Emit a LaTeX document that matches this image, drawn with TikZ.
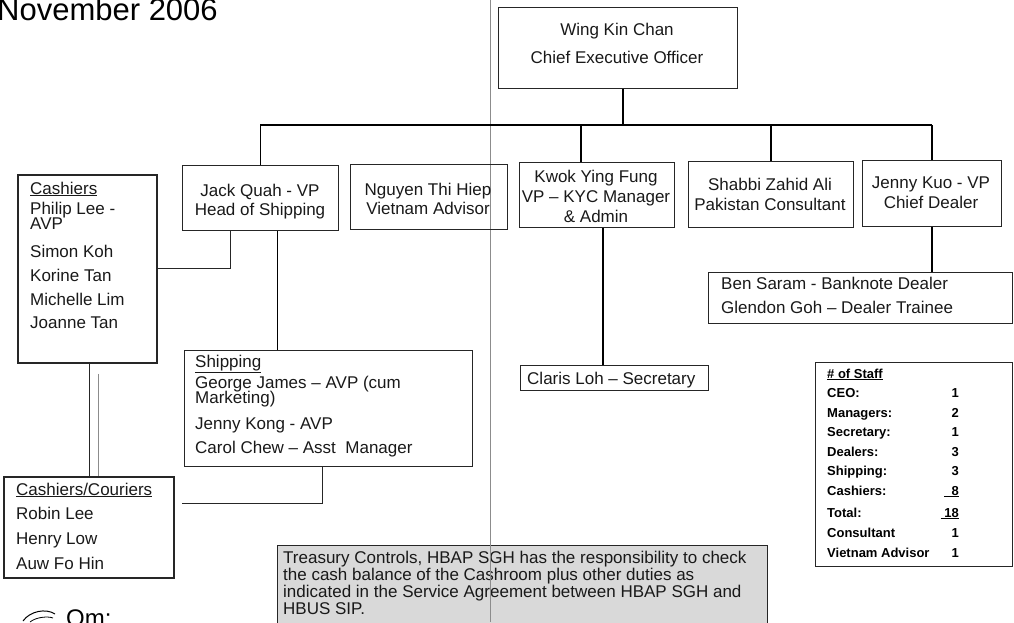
\documentclass[tikz,border=0pt]{standalone}
\usepackage{fontspec}
\setmainfont{Liberation Sans}
\usetikzlibrary{calc}
\newcommand\lblfont{\fontsize{17}{20}\selectfont}
\newcommand\stafffont{\fontsize{13}{15}\selectfont\bfseries}
\begin{document}
\begin{tikzpicture}[x=1pt,y=-1pt,
  frame/.style={draw=black!85, line width=0.9pt, inner sep=0pt, anchor=north west},
  heavyframe/.style={frame, line width=1.8pt},
  lbl/.style={font=\lblfont, inner sep=0pt, anchor=base west, text=black!90},
  ctr/.style={lbl, anchor=base},
  stf/.style={font=\stafffont, inner sep=0pt, anchor=base west},
  stfv/.style={stf, anchor=base east},
  heavyline/.style={line width=1.8pt, draw=black},
  thinline/.style={line width=0.9pt, draw=black!85},
  faintline/.style={line width=0.6pt, draw=black!45}]
\useasboundingbox (0,0) rectangle (1014,622);

% crease running down the sheet
\draw[faintline] (490,0) -- (490,622);

% title
\node[font=\fontsize{31}{31}\selectfont, inner sep=0pt, anchor=base west] (title) at (-3,20) {November 2006};

% chief executive
\node[frame, minimum width=239pt, minimum height=81pt] (ceo) at (498,7) {};
\node[ctr] (ceoA) at (617,35) {Wing Kin Chan};
\node[ctr] (ceoB) at (617,63) {Chief Executive Officer};

% direct reports
\node[frame, minimum width=156pt, minimum height=65pt] (jack) at (182,165) {};
\node[ctr] (jackA) at (260,196) {Jack Quah - VP};
\node[ctr] (jackB) at (260,215) {Head of Shipping};

\node[frame, minimum width=157pt, minimum height=65pt] (nguyen) at (350,164) {};
\node[ctr] (nguyenA) at (428,195) {Nguyen Thi Hiep};
\node[ctr] (nguyenB) at (428,214) {Vietnam Advisor};

\node[frame, minimum width=155pt, minimum height=65pt] (kwok) at (519,162) {};
\node[ctr] (kwokA) at (596,182) {Kwok Ying Fung};
\node[ctr] (kwokB) at (596,202) {VP -- KYC Manager};
\node[ctr] (kwokC) at (596,222) {\& Admin};

\node[frame, minimum width=165pt, minimum height=66pt] (shabbi) at (688,161) {};
\node[ctr] (shabbiA) at (770,190) {Shabbi Zahid Ali};
\node[ctr] (shabbiB) at (770,210) {Pakistan Consultant};

\node[frame, minimum width=139pt, minimum height=66pt] (jenny) at (862,160) {};
\node[ctr] (jennyA) at (931,188) {Jenny Kuo - VP};
\node[ctr] (jennyB) at (931,208) {Chief Dealer};

% cashiers
\node[heavyframe, minimum width=139pt, minimum height=188pt] (cash) at (17,174) {};
\node[lbl] (cashH) at (30,194) {\underline{Cashiers}};
\node[lbl] (cashA) at (30,214) {Philip Lee -};
\node[lbl] (cashA2) at (30,229) {AVP};
\node[lbl] (cashB) at (30,257) {Simon Koh};
\node[lbl] (cashC) at (30,281) {Korine Tan};
\node[lbl] (cashD) at (30,305) {Michelle Lim};
\node[lbl] (cashE) at (30,328) {Joanne Tan};

% shipping
\node[frame, minimum width=288pt, minimum height=116pt] (ship) at (184,350) {};
\node[lbl] (shipH) at (195,367) {\underline{Shipping}};
\node[lbl] (shipA) at (195,388) {George James -- AVP (cum};
\node[lbl] (shipA2) at (195,403) {Marketing)};
\node[lbl] (shipB) at (195,429) {Jenny Kong - AVP};
\node[lbl] (shipC) at (195,453) {Carol Chew -- Asst\ \ Manager};

% cashiers / couriers
\node[heavyframe, minimum width=170pt, minimum height=101pt] (cour) at (3,476) {};
\node[lbl] (courH) at (16,495) {\underline{Cashiers/Couriers}};
\node[lbl] (courA) at (16,519) {Robin Lee};
\node[lbl] (courB) at (16,544) {Henry Low};
\node[lbl] (courC) at (16,569) {Auw Fo Hin};

% secretary
\node[frame, minimum width=188pt, minimum height=25pt] (claris) at (520,365) {};
\node[lbl] (clarisA) at (527,384) {Claris Loh -- Secretary};

% dealers
\node[frame, minimum width=304pt, minimum height=51pt] (ben) at (708,272) {};
\node[lbl] (benA) at (721,289) {Ben Saram - Banknote Dealer};
\node[lbl] (benB) at (721,313) {Glendon Goh -- Dealer Trainee};

% staff count
\node[frame, minimum width=197pt, minimum height=204pt] (staff) at (815,362) {};
\node[stf] (sH) at (827,378) {\underline{\# of Staff}};
\foreach \nm/\lab/\val/\yy in {s1/CEO:/1/397, s2/Managers:/2/417, s3/Secretary:/1/436,
    s4/Dealers:/3/456, s5/Shipping:/3/475, s6/Cashiers:/{\underline{\ \ 8}}/495,
    s7/Total:/{\underline{\ 18}}/517, s8/Consultant/1/537, s9/Vietnam Advisor/1/557}{
  \node[stf] (\nm l) at (827,\yy) {\lab};
  \node[stfv] (\nm v) at (959,\yy) {\val};
}

% note from treasury, running off the foot of the sheet
\node[frame, fill=black!15, minimum width=490pt, minimum height=84pt] (treas) at (277,545) {};
\node[lbl] (trA) at (283,563) {Treasury Controls, HBAP SGH has the responsibility to check};
\node[lbl] (trB) at (283,580) {the cash balance of the Cashroom plus other duties as};
\node[lbl] (trC) at (283,597) {indicated in the Service Agreement between HBAP SGH and};
\node[lbl] (trD) at (283,614) {HBUS SIP.};
\draw[faintline] (490,545) -- (490,622);

% connectors
\coordinate (bus) at (0,125);
\draw[heavyline] (jack.north |- bus) -- (jenny.north |- bus);
\draw[heavyline] ([xshift=5pt]ceo.south) -- ([xshift=5pt]ceo.south |- bus);
\draw[heavyline] (jack.north |- bus) -- (jack.north);
\draw[heavyline] ([xshift=-16pt]kwok.north |- bus) -- ([xshift=-16pt]kwok.north);
\draw[heavyline] (shabbi.north |- bus) -- (shabbi.north);
\draw[heavyline] (jenny.north |- bus) -- (jenny.north);

\draw[heavyline] ([xshift=17pt]jack.south) -- ([xshift=17pt]jack.south |- ship.north);
\draw[thinline] (cash.east) -| ([xshift=-30pt]jack.south);
\draw[heavyline] ([xshift=6pt]kwok.south) -- ([xshift=6pt]kwok.south |- claris.north);
\draw[heavyline] (jenny.south) -- (jenny.south |- ben.north);

\draw[thinline] ([xshift=2.5pt]cash.south) -- ([xshift=2.5pt]cash.south |- cour.north);
\draw[faintline] ([xshift=10.5pt,yshift=-10pt]cash.south) -- ([xshift=10.5pt]cash.south |- cour.north);

\coordinate (courTab) at (182,503);
\draw[thinline] ([xshift=-6pt]ship.south) |- (courTab);

% initials at the foot of the sheet
\draw[line width=1pt] (23,621) .. controls (30,611) and (46,608) .. (55,614);
\draw[line width=0.8pt] (30,622) .. controls (36,617) and (48,616) .. (53,618);
\node[font=\fontsize{24}{24}\selectfont, inner sep=0pt, anchor=base west] (initials) at (66,626) {Om:};
\end{tikzpicture}
\end{document}
